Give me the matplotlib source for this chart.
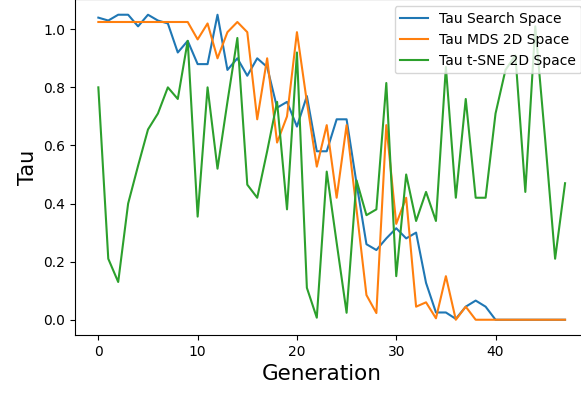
#!/usr/bin/env python3

import matplotlib
matplotlib.use('Agg')
import matplotlib.pyplot as plt


# values, one per generation (0..47)
tau_search = [1.04, 1.03, 1.05, 1.05, 1.01, 1.05, 1.03, 1.02, 0.92, 0.96,
              0.88, 0.88, 1.05, 0.86, 0.90, 0.84, 0.90, 0.87, 0.73, 0.75,
              0.665, 0.77, 0.58, 0.58, 0.69, 0.69, 0.47, 0.26, 0.24, 0.28,
              0.315, 0.28, 0.30, 0.127, 0.025, 0.025, 0.003, 0.045, 0.066,
              0.045, 0.0, 0.0, 0.0, 0.0, 0.0, 0.0, 0.0, 0.0]
tau_mds = [1.025, 1.025, 1.025, 1.025, 1.025, 1.025, 1.025, 1.025, 1.025,
           1.025, 0.965, 1.02, 0.90, 0.99, 1.025, 0.99, 0.69, 0.90, 0.61,
           0.70, 0.99, 0.75, 0.527, 0.67, 0.42, 0.67, 0.38, 0.085, 0.023,
           0.67, 0.33, 0.42, 0.045, 0.06, 0.005, 0.15, 0.0, 0.045, 0.0,
           0.0, 0.0, 0.0, 0.0, 0.0, 0.0, 0.0, 0.0, 0.0]
tau_tsne = [0.80, 0.21, 0.13, 0.40, 0.53, 0.655, 0.71, 0.80, 0.76, 0.96,
            0.355, 0.80, 0.52, 0.75, 0.97, 0.465, 0.42, 0.58, 0.75, 0.38,
            0.92, 0.11, 0.007, 0.51, 0.265, 0.024, 0.48, 0.36, 0.38, 0.815,
            0.15, 0.50, 0.34, 0.44, 0.34, 0.87, 0.42, 0.76, 0.42, 0.42,
            0.71, 0.86, 0.91, 0.44, 1.01, 0.62, 0.21, 0.47]
generations = list(range(len(tau_tsne)))


def main():
    fig = plt.figure(figsize=(5.81, 3.98), dpi=100)
    # the original image is cropped on the right/top, so the axes run off
    ax = fig.add_axes([0.1291, 0.1583, 0.8836, 0.843])
    ax.plot(generations, tau_search, label="Tau Search Space")
    ax.plot(generations, tau_mds, label="Tau MDS 2D Space")
    ax.plot(generations, tau_tsne, label="Tau t-SNE 2D Space")
    ax.set_xlim(-2.35, 49.35)
    ax.set_ylim(-0.0525, 1.1025)
    ax.set_xticks([0, 10, 20, 30, 40])
    ax.set_xlabel("Generation", fontsize=15.5)
    ax.xaxis.set_label_coords(0.481, -0.085)
    ax.set_ylabel("Tau", fontsize=15)
    ax.legend(loc='upper right')
    fig.savefig('out.png', dpi=100)


if __name__ == '__main__':
    main()
